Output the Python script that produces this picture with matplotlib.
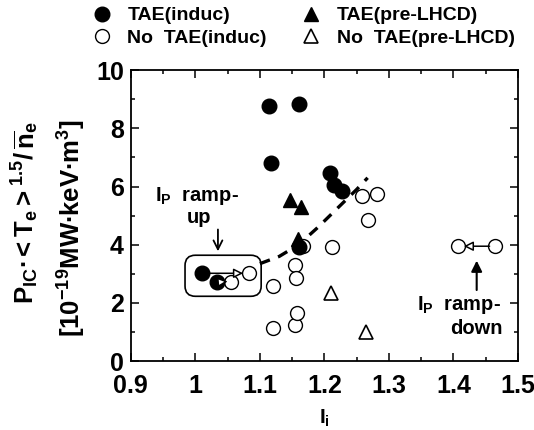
"""
TAE onset vs internal inductance: P_IC*<Te>^1.5/ne against l_i.
Run: python plot.py
"""

import matplotlib

matplotlib.use("Agg")
import matplotlib.pyplot as plt
from matplotlib.patches import FancyArrowPatch, FancyBboxPatch

# --------- Data ---------
TAE_INDUC_LI = [1.114, 1.160, 1.117, 1.209, 1.215, 1.227, 1.160, 1.010, 1.033]
TAE_INDUC_P = [8.76, 8.85, 6.80, 6.45, 6.05, 5.85, 3.92, 3.02, 2.71]

NOTAE_INDUC_LI = [1.083, 1.055, 1.120, 1.154, 1.156, 1.120, 1.154, 1.157,
                  1.258, 1.281, 1.268, 1.212, 1.167, 1.407, 1.464]
NOTAE_INDUC_P = [3.02, 2.72, 2.57, 3.30, 2.85, 1.13, 1.24, 1.65,
                 5.67, 5.74, 4.85, 3.92, 3.95, 3.95, 3.95]

TAE_LHCD_LI = [1.146, 1.164, 1.159]
TAE_LHCD_P = [5.55, 5.30, 4.20]

NOTAE_LHCD_LI = [1.210, 1.264]
NOTAE_LHCD_P = [2.35, 1.02]

# dashed guide curve (threshold trend)
TREND_LI = [1.100, 1.130, 1.160, 1.190, 1.220, 1.250, 1.267]
TREND_P = [3.35, 3.60, 4.00, 4.60, 5.25, 5.90, 6.30]

# ramp arrows: (start, end)
RAMP_ARROWS = [
    ((1.018, 3.02), (1.074, 3.02)),
    ((1.040, 2.72), (1.050, 2.74)),
    ((1.456, 3.95), (1.416, 3.95)),
]

XTICKS = [0.9, 1.0, 1.1, 1.2, 1.3, 1.4, 1.5]
XTICK_LABELS = ["0.9", "1", "1.1", "1.2", "1.3", "1.4", "1.5"]
YTICKS = [0, 2, 4, 6, 8, 10]

plt.rcParams["font.family"] = ["Liberation Sans", "DejaVu Sans"]
plt.rcParams["font.weight"] = "bold"
plt.rcParams["mathtext.fontset"] = "custom"
plt.rcParams["mathtext.rm"] = "Liberation Sans:bold"
plt.rcParams["mathtext.it"] = "Liberation Sans:bold"
plt.rcParams["mathtext.bf"] = "Liberation Sans:bold"

fig = plt.figure(figsize=(5.34, 4.30), dpi=100)
ax = fig.add_axes([0.245, 0.160, 0.725, 0.677])

ax.plot(TREND_LI, TREND_P, color="black", lw=2.4, dashes=(3.2, 2.6), zorder=2)

h_open = ax.plot(NOTAE_INDUC_LI, NOTAE_INDUC_P, "o", ms=10, mfc="white",
                 mec="black", mew=1.0, ls="none", zorder=3,
                 label="No  TAE(induc)")[0]
h_fill = ax.plot(TAE_INDUC_LI, TAE_INDUC_P, "o", ms=10.5, color="black",
                 ls="none", zorder=4, label="TAE(induc)")[0]
h_tri = ax.plot(TAE_LHCD_LI, TAE_LHCD_P, "^", ms=9.5, color="black",
                ls="none", zorder=4, label="TAE(pre-LHCD)")[0]
h_otri = ax.plot(NOTAE_LHCD_LI, NOTAE_LHCD_P, "^", ms=9.5, mfc="white",
                 mec="black", mew=1.2, ls="none", zorder=4,
                 label="No  TAE(pre-LHCD)")[0]

for (x0, y0), (x1, y1) in RAMP_ARROWS:
    ax.add_patch(FancyArrowPatch((x0, y0), (x1, y1), arrowstyle="-|>",
                                 mutation_scale=14, fc="white", ec="black",
                                 lw=1.1, shrinkA=0, shrinkB=0, zorder=5))

# rounded box around the ramp-up shots
ax.add_patch(FancyBboxPatch((0.984, 2.23), 0.118, 1.41,
                            boxstyle="round,pad=0,rounding_size=0.016",
                            mutation_aspect=22, fc="none", ec="black",
                            lw=1.2, zorder=2))

# ramp-up / ramp-down labels
ax.text(0.937, 5.68, r"I$_\mathregular{P}$  ramp-", fontsize=14.5,
        fontweight="bold", va="center", ha="left")
ax.text(0.986, 4.95, "up", fontsize=14.5, fontweight="bold", va="center",
        ha="left")
ax.annotate("", xy=(1.035, 3.68), xytext=(1.035, 4.62),
            arrowprops=dict(arrowstyle="->", lw=1.3, color="black",
                            mutation_scale=16))

ax.text(1.343, 1.93, r"I$_\mathregular{P}$  ramp-", fontsize=14.5,
        fontweight="bold", va="center", ha="left")
ax.text(1.436, 1.13, "down", fontsize=14.5, fontweight="bold", va="center",
        ha="center")
ax.annotate("", xy=(1.436, 3.55), xytext=(1.436, 2.35),
            arrowprops=dict(arrowstyle="-|>", lw=1.5, color="black",
                            mutation_scale=16))

ax.set_xlim(0.9, 1.5)
ax.set_ylim(0, 10)
ax.set_xticks(XTICKS)
ax.set_xticklabels(XTICK_LABELS)
ax.set_xticks([0.95, 1.05, 1.15, 1.25, 1.35, 1.45], minor=True)
ax.set_yticks(YTICKS)
ax.set_yticks([1, 3, 5, 7, 9], minor=True)
ax.tick_params(which="both", direction="in", top=True, right=True,
               labelsize=18, width=1.1)
ax.tick_params(axis="x", pad=9)
ax.tick_params(axis="y", pad=5)
ax.tick_params(which="major", length=6)
ax.tick_params(which="minor", length=3)
for lab in ax.get_xticklabels() + ax.get_yticklabels():
    lab.set_fontweight("bold")
for sp in ax.spines.values():
    sp.set_linewidth(1.3)

ax.set_xlabel(r"I$_\mathregular{i}$", fontsize=15, fontweight="bold",
              labelpad=7)

fig.text(0.047, 0.505,
         r"$\mathregular{P_{IC}{\bullet}{<}T_e{>}^{1.5}/\,\overline{n}_e}$",
         rotation=90, fontsize=18.5, ha="center", va="center")
fig.text(0.135, 0.47,
         r"[10$^\mathregular{-19}$MW$\bullet$keV$\bullet$m$^\mathregular{3}$]",
         rotation=90, fontsize=18.5, fontweight="bold", ha="center",
         va="center")

fig.legend(handles=[h_fill, h_open, h_tri, h_otri], ncol=2, frameon=False,
           loc="upper left", bbox_to_anchor=(0.14, 1.025),
           prop={"weight": "bold", "size": 14}, handlelength=1.0,
           handletextpad=0.8, columnspacing=1.8, labelspacing=0.25)

fig.savefig("out.png", dpi=100)
